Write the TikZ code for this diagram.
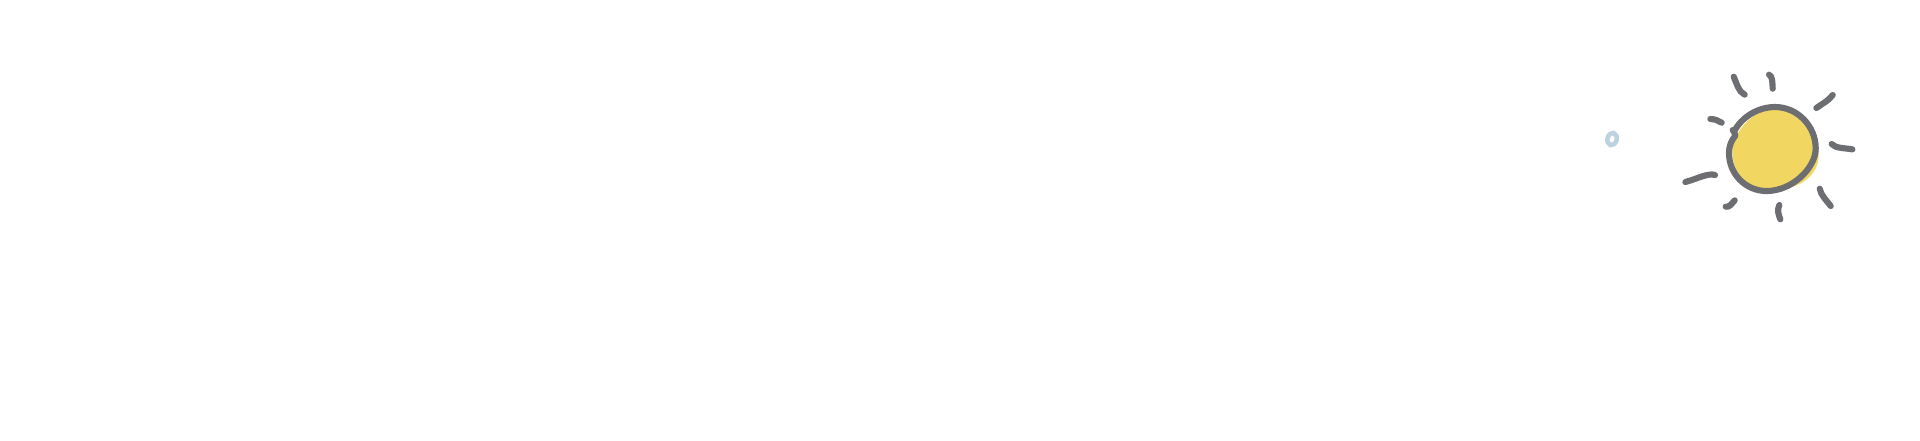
\documentclass[tikz,border=0pt]{standalone}
\definecolor{sunfill}{HTML}{F2D662}
\definecolor{sunline}{HTML}{6D6E71}
\definecolor{ringblue}{HTML}{BCD2DF}
\tikzset{
  stroke/.style={draw=sunline,line width=3.5pt,line cap=round,line join=round},
  ring/.style={draw=ringblue,line width=2.6pt}
}
\begin{document}
\begin{tikzpicture}
\useasboundingbox (0,0) rectangle (38.4,-8.8);
\begin{scope}[x=0.02cm/3,y=-0.02cm/3,shift={(33.2cm,-0.4cm)}]
  % yellow disc
  \fill[sunfill] (345,268) .. controls (415,268) and (476,330) .. (476,405)
    .. controls (476,465) and (420,508) .. (345,508)
    .. controls (320,508) and (295,503) .. (272,497)
    .. controls (240,480) and (217,440) .. (217,395)
    .. controls (217,345) and (270,268) .. (345,268) -- cycle;
  % outline
  \draw[stroke] (222,335) .. controls (245,290) and (295,261) .. (345,261)
    .. controls (412,261) and (467,318) .. (467,385)
    .. controls (467,445) and (395,513) .. (320,513)
    .. controls (255,513) and (207,460) .. (207,400)
    .. controls (207,375) and (215,360) .. (226,347)
    .. controls (225,340) and (222,335) .. (218,330);
  % rays
  \draw[stroke] (221,170) .. controls (230,190) and (235,215) .. (254,224);
  \draw[stroke] (327,164) .. controls (338,168) and (337,190) .. (338,206);
  \draw[stroke] (518,225) .. controls (505,243) and (485,252) .. (469,264);
  \draw[stroke] (515,372) .. controls (525,385) and (555,384) .. (577,388);
  \draw[stroke] (479,506) .. controls (482,525) and (500,542) .. (512,558);
  \draw[stroke] (358,555) .. controls (350,570) and (356,585) .. (361,598);
  \draw[stroke] (224,541) .. controls (213,553) and (208,562) .. (197,560);
  \draw[stroke] (165,465) .. controls (145,458) and (115,475) .. (76,486);
  \draw[stroke] (151,297) .. controls (165,297) and (175,302) .. (185,308);
\end{scope}
% small ring
\draw[ring] (1611.7*0.02,-139*0.02) ellipse [x radius=0.092,y radius=0.125,rotate=-15];
\end{tikzpicture}
\end{document}
